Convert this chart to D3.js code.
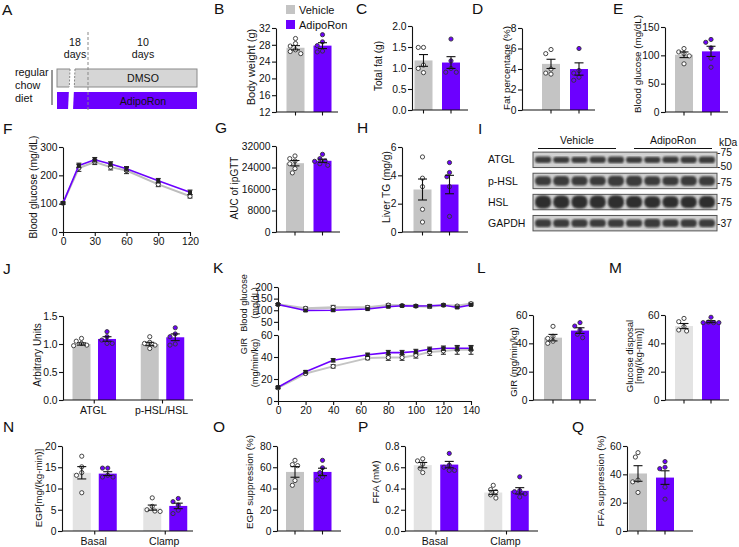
<!DOCTYPE html>
<html><head><meta charset="utf-8">
<script src="https://cdn.jsdelivr.net/npm/d3@7"></script>
<style>
body{margin:0;background:#fff}
svg{display:block}
text{font-family:"Liberation Sans",Arial,Helvetica,sans-serif;fill:#111}
</style>
</head><body>
<svg id="c" width="739" height="547"></svg>
<script>
// ---------- DATA ----------
const groups = ["Vehicle", "AdipoRon"];
// B body weight (g)
const bodyWeightMean = [27.3, 27.8], bodyWeightSem = [0.5, 0.7];
const bodyWeightVeh = [29.5, 28.3, 27.7, 26.8, 26.4, 25.9], bodyWeightAdipo = [30.4, 28.7, 27.8, 26.5, 26.3];
// C total fat (g)
const totalFatMean = [1.18, 1.13], totalFatSem = [0.14, 0.14];
const totalFatVeh = [1.49, 1.49, 1.07, 0.99, 0.89], totalFatAdipo = [1.69, 1.17, 0.99, 0.9, 0.9];
// D fat percentage (%)
const fatPctMean = [4.5, 4.0], fatPctSem = [0.45, 0.6];
const fatPctVeh = [5.9, 5.5, 4.0, 3.6, 3.5], fatPctAdipo = [6.0, 3.85, 3.6, 3.2, 2.9];
// E blood glucose (mg/dL)
const bgMean = [101, 107], bgSem = [5, 9];
const bgVeh = [112, 106, 103, 99, 85], bgAdipo = [128, 123, 113, 95, 79];
// F ipGTT
const gttTime = [0, 15, 30, 45, 60, 90, 120];
const gttVeh = [102, 226, 247, 229, 217, 168, 126], gttVehSem = [4, 12, 9, 10, 11, 8, 6];
const gttAdipo = [102, 235, 255, 240, 223, 181, 140], gttAdipoSem = [4, 8, 8, 8, 8, 8, 8];
const gttXTicks = [0, 30, 60, 90, 120], gttYTicks = [0, 100, 200, 300];
// G AUC
const aucMean = [25600, 26500], aucSem = [1000, 600];
const aucVeh = [28300, 27300, 26400, 25400, 23600, 22000], aucAdipo = [28900, 27300, 26400, 26300, 25400, 24800];
// H liver TG (mg/g)
const liverTgMean = [3.0, 3.35], liverTgSem = [0.74, 0.65];
const liverTgVeh = [5.3, 3.8, 3.2, 1.6, 0.7], liverTgAdipo = [4.9, 4.2, 3.9, 3.2, 1.1];
// I western blot
const blotRows = ["ATGL", "p-HSL", "HSL", "GAPDH"];
const blotLanes = ["V1", "V2", "V3", "V4", "V5", "A1", "A2", "A3", "A4", "A5"];
const atglBands = [0.42, 0.4, 0.4, 0.42, 0.44, 0.4, 0.4, 0.42, 0.43, 0.44];
const phslBands = [0.6, 0.64, 0.6, 0.6, 0.68, 0.68, 0.6, 0.58, 0.64, 0.62];
const hslBands = [0.85, 0.85, 0.85, 0.85, 0.88, 0.78, 0.76, 0.74, 0.76, 0.78];
const gapdhBands = [0.52, 0.52, 0.52, 0.5, 0.52, 0.48, 0.56, 0.5, 0.52, 0.52];
const blotMarkers = [["ATGL", "75", -0.45], ["ATGL", "50", 0.42], ["p-HSL", "75", 0.12], ["HSL", "75", 0.05], ["GAPDH", "37", 0.0]];
// J quantification
const blotCats = ["ATGL", "p-HSL/HSL"];
const atglMean = [1.0, 1.09], atglSem = [0.02, 0.04];
const atglVeh = [1.1, 1.05, 1.01, 0.98, 0.97], atglAdipo = [1.22, 1.13, 1.07, 1.01, 1.01];
const phslMean = [1.0, 1.12], phslSem = [0.03, 0.06];
const phslVeh = [1.13, 1.03, 1.01, 0.98, 0.92], phslAdipo = [1.29, 1.18, 1.13, 1.0, 0.98];
// K clamp time course
const clampTime = [0, 20, 40, 65, 80, 90, 100, 110, 120, 130, 140];
const clampBgVeh = [125, 108, 112, 112, 122, 120, 118, 116, 122, 118, 128];
const clampBgVehSem = [4, 6, 9, 7, 6, 4, 4, 7, 4, 4, 6];
const clampBgAdipo = [125, 99, 100, 105, 115, 119, 118, 119, 122, 112, 123];
const clampBgAdipoSem = [4, 4, 5, 4, 4, 4, 4, 4, 4, 4, 4];
const girVeh = [12, 25, 31.5, 39, 39.5, 39.5, 41.5, 44.5, 45.5, 46.5, 46.5];
const girVehSem = [1, 1, 1.5, 1.5, 2.5, 2.5, 2.5, 3, 3, 4, 4];
const girAdipo = [12.5, 26.5, 37, 42, 44, 44, 45, 47, 48, 48, 48];
const girAdipoSem = [1, 1, 1.5, 1.5, 2, 2, 2, 2, 2, 2, 2];
const clampXTicks = [0, 20, 40, 60, 80, 100, 120, 140];
// L GIR
const girMean = [44, 49], girSem = [2.3, 2.0];
const girBarVeh = [52, 45, 43.5, 41.5, 40], girBarAdipo = [54.6, 52.2, 49.4, 46.4, 44];
// M glucose disposal
const gdMean = [52.2, 55.3], gdSem = [1.8, 0.7];
const gdVeh = [57.6, 55.3, 51.8, 49.4, 48.7], gdAdipo = [58.4, 55, 54.6, 54.6, 54.6];
// N EGP
const egpCats = ["Basal", "Clamp"];
const egpBasalMean = [13.7, 13.5], egpBasalSem = [1.45, 0.45];
const egpBasalVeh = [17.6, 15.1, 13.75, 13.1, 9.0], egpBasalAdipo = [14.8, 14.8, 13.1, 12.7, 12.7];
const egpClampMean = [5.5, 5.9], egpClampSem = [0.6, 0.65];
const egpClampVeh = [7.8, 5.8, 5.0, 4.7, 4.6], egpClampAdipo = [7.65, 6.9, 6.1, 4.9, 4.1];
// O EGP suppression
const egpSupMean = [55.6, 55.6], egpSupSem = [5.0, 3.5];
const egpSupVeh = [66.5, 62.5, 61.5, 47.5, 43], egpSupAdipo = [66.5, 59.5, 55, 51, 48];
// P FFA
const ffaCats = ["Basal", "Clamp"];
const ffaBasalMean = [0.62, 0.625], ffaBasalSem = [0.025, 0.03];
const ffaBasalVeh = [0.68, 0.66, 0.63, 0.59, 0.55], ffaBasalAdipo = [0.73, 0.62, 0.6, 0.57, 0.57];
const ffaClampMean = [0.362, 0.378], ffaClampSem = [0.02, 0.03];
const ffaClampVeh = [0.43, 0.39, 0.37, 0.34, 0.31], ffaClampAdipo = [0.51, 0.38, 0.37, 0.35, 0.32];
// Q FFA suppression
const ffaSupMean = [40.6, 37.7], ffaSupSem = [5.5, 4.8];
const ffaSupVeh = [55.3, 52.2, 35.9, 34.7, 27.2], ffaSupAdipo = [49, 45, 44, 31, 22.5];

// ---------- STYLE ----------
const PURPLE = "#6c00ff", GRAY = "#c4c4c4", LGRAY = "#e3e3e3";
const TICKFS = 10.3, LABFS = 10.3;
const svg = d3.select("#c");

function letter(t, x, y) {
  svg.append("text").attr("x", x).attr("y", y).attr("font-size", 15.5).text(t);
}
function ylab(t, x, y, fs) {
  svg.append("text").attr("transform", `translate(${x},${y}) rotate(-90)`)
    .attr("text-anchor", "middle").attr("dy", "0.35em").attr("font-size", fs || LABFS).text(t);
}
function styleAxis(sel) {
  sel.selectAll("path,line").attr("stroke", "#111").attr("stroke-width", 1.1);
  sel.selectAll("text").attr("font-size", TICKFS).attr("fill", "#111")
    .style("font-family", '"Liberation Sans",Arial,sans-serif');
}
function swarm(vals, y, r) {
  const placed = [], out = new Array(vals.length);
  const order = vals.map((v, i) => i).sort((a, b) => vals[b] - vals[a]);
  order.forEach(i => {
    const py = y(vals[i]);
    for (let k = 0; k < 30; k++) {
      const off = k === 0 ? 0 : (k % 2 ? -1 : 1) * Math.ceil(k / 2) * r * 1.25;
      if (placed.every(p => Math.hypot(p.x - off, p.y - py) >= 2 * r + 0.7)) {
        placed.push({x: off, y: py}); out[i] = off; break;
      }
    }
    if (out[i] === undefined) out[i] = 0;
  });
  return out;
}

function barPanel(o) {
  const g = svg.append("g");
  const y = d3.scaleLinear().domain(o.domain).range([o.yBot, o.yTop]);
  const xc = d3.scalePoint().domain(o.cats).range(o.catRange);
  const xi = d3.scalePoint().domain(groups).range([-o.half, o.half]);
  const cols = [o.vehColor || GRAY, PURPLE];
  const bw = 18;
  o.cats.forEach((c, ci) => {
    groups.forEach((gr, gi) => {
      const cx = xc(c) + xi(gr), m = o.means[ci][gi];
      g.append("rect").attr("x", cx - bw / 2).attr("width", bw)
        .attr("y", y(m)).attr("height", y(o.domain[0]) - y(m)).attr("fill", cols[gi]);
    });
  });
  const ya = d3.axisLeft(y).tickValues(o.ticks).tickSize(4).tickSizeOuter(0).tickPadding(1.5)
    .tickFormat(o.fmt || d3.format("d"));
  g.append("g").attr("transform", `translate(${o.x0},0)`).call(ya).call(styleAxis);
  const ticks = [];
  o.cats.forEach(c => {
    if (o.catTicks) ticks.push(xc(c)); else groups.forEach(gr => ticks.push(xc(c) + xi(gr)));
  });
  g.append("line").attr("x1", o.x0).attr("x2", o.x1).attr("y1", o.yBot).attr("y2", o.yBot)
    .attr("stroke", "#111").attr("stroke-width", 1.2);
  ticks.forEach(t => g.append("line").attr("x1", t).attr("x2", t).attr("y1", o.yBot).attr("y2", o.yBot + 3.5)
    .attr("stroke", "#111").attr("stroke-width", 1.1));
  if (o.catLabels) {
    o.cats.forEach(c => g.append("text").attr("x", xc(c) - 1).attr("y", o.catY).attr("text-anchor", "middle")
      .attr("font-size", 10.5).text(c));
  }
  const r = 2.1;
  o.cats.forEach((c, ci) => {
    groups.forEach((gr, gi) => {
      const cx = xc(c) + xi(gr), vals = o.pts[ci][gi];
      const offs = swarm(vals, y, r);
      vals.forEach((v, i) => g.append("circle").attr("cx", cx + offs[i]).attr("cy", y(v)).attr("r", r)
        .attr("fill", gi === 0 ? "#fff" : PURPLE).attr("stroke", "#333").attr("stroke-width", 0.9));
    });
  });
  o.cats.forEach((c, ci) => {
    groups.forEach((gr, gi) => {
      const cx = xc(c) + xi(gr), m = o.means[ci][gi], s = o.sems[ci][gi];
      const hi = y(m + s), lo = y(m - s);
      g.append("line").attr("x1", cx).attr("x2", cx).attr("y1", hi).attr("y2", lo).attr("stroke", "#111").attr("stroke-width", 1.1);
      [hi, lo].forEach(yy => g.append("line").attr("x1", cx - 4.5).attr("x2", cx + 4.5).attr("y1", yy).attr("y2", yy)
        .attr("stroke", "#111").attr("stroke-width", 1.1));
    });
  });
  return y;
}

function lineSeries(g, x, y, t, vals, sems, color, width, marker) {
  const line = d3.line().x((d, i) => x(t[i])).y(d => y(d));
  g.append("path").attr("d", line(vals)).attr("fill", "none").attr("stroke", color).attr("stroke-width", width)
    .attr("stroke-linejoin", "round");
  vals.forEach((v, i) => {
    const cx = x(t[i]), hi = y(v + sems[i]), lo = y(v - sems[i]);
    g.append("line").attr("x1", cx).attr("x2", cx).attr("y1", hi).attr("y2", lo).attr("stroke", "#222").attr("stroke-width", 1);
    [hi, lo].forEach(yy => g.append("line").attr("x1", cx - 2.5).attr("x2", cx + 2.5).attr("y1", yy).attr("y2", yy)
      .attr("stroke", "#222").attr("stroke-width", 1));
  });
  vals.forEach((v, i) => {
    if (marker === "circle") g.append("circle").attr("cx", x(t[i])).attr("cy", y(v)).attr("r", 2.1)
      .attr("fill", "#fff").attr("stroke", "#333").attr("stroke-width", 1);
    else g.append("rect").attr("x", x(t[i]) - 2).attr("y", y(v) - 2).attr("width", 4).attr("height", 4).attr("fill", "#222");
  });
}

// ---------- A: schematic ----------
letter("A", 2, 15);
(function () {
  const g = svg.append("g");
  const fs = 10.6;
  [["18", 75, 46], ["days", 75, 58], ["10", 143, 46], ["days", 143, 58]].forEach(d =>
    g.append("text").attr("x", d[1]).attr("y", d[2]).attr("text-anchor", "middle").attr("font-size", fs).text(d[0]));
  g.append("rect").attr("x", 57).attr("y", 69).attr("width", 140).attr("height", 18).attr("fill", "#d6d6d6").attr("stroke", "#8a8a8a").attr("stroke-width", 1);
  g.append("rect").attr("x", 57).attr("y", 92).attr("width", 140).attr("height", 17).attr("fill", PURPLE);
  g.append("polygon").attr("points", "70,68 75,68 73,110 68,110").attr("fill", "#fff");
  g.append("line").attr("x1", 70).attr("y1", 69).attr("x2", 69.3).attr("y2", 87).attr("stroke", "#888").attr("stroke-dasharray", "2,1.5");
  g.append("line").attr("x1", 75).attr("y1", 69).attr("x2", 74.3).attr("y2", 87).attr("stroke", "#888").attr("stroke-dasharray", "2,1.5");
  g.append("line").attr("x1", 88).attr("x2", 88).attr("y1", 32).attr("y2", 110).attr("stroke", "#888").attr("stroke-width", 1).attr("stroke-dasharray", "3,2");
  g.append("text").attr("x", 143).attr("y", 82).attr("text-anchor", "middle").attr("font-size", fs).text("DMSO");
  g.append("text").attr("x", 143).attr("y", 104.5).attr("text-anchor", "middle").attr("font-size", fs).text("AdipoRon");
  [["regular", 76], ["chow", 89], ["diet", 102]].forEach(d =>
    g.append("text").attr("x", 15).attr("y", d[1]).attr("font-size", 10.8).text(d[0]));
  g.append("line").attr("x1", 52).attr("x2", 52).attr("y1", 70).attr("y2", 105).attr("stroke", "#333").attr("stroke-width", 1);
})();

// legend
groups.forEach((gr, i) => {
  svg.append("rect").attr("x", 286).attr("y", 5 + i * 15).attr("width", 9).attr("height", 9).attr("fill", i ? PURPLE : GRAY);
  svg.append("text").attr("x", 299).attr("y", 13.5 + i * 15).attr("font-size", 11).text(gr);
});

// ---------- top row ----------
letter("B", 214, 14);
barPanel({x0: 276, x1: 338, yTop: 28, yBot: 112, domain: [12, 32], ticks: [12, 16, 20, 24, 28, 32],
  cats: [""], catRange: [309, 309], half: 13.5, means: [bodyWeightMean], sems: [bodyWeightSem],
  pts: [[bodyWeightVeh, bodyWeightAdipo]]});
ylab("Body weight (g)", 251, 67, 11);

letter("C", 356, 14);
barPanel({x0: 412, x1: 468, yTop: 26, yBot: 110, domain: [0, 2], ticks: [0, 0.5, 1, 1.5, 2], fmt: d3.format(".1f"),
  cats: [""], catRange: [437.25, 437.25], half: 13.75, means: [totalFatMean], sems: [totalFatSem],
  pts: [[totalFatVeh, totalFatAdipo]]});
ylab("Total fat (g)", 378, 66, 10);

letter("D", 472, 14);
barPanel({x0: 522, x1: 595, yTop: 28, yBot: 110, domain: [0, 8], ticks: [0, 2, 4, 6, 8],
  cats: [""], catRange: [565, 565], half: 14, means: [fatPctMean], sems: [fatPctSem],
  pts: [[fatPctVeh, fatPctAdipo]]});
ylab("Fat percentage (%)", 506.5, 68, 9.8);

letter("E", 613, 14);
barPanel({x0: 665, x1: 728, yTop: 27, yBot: 112, domain: [0, 150], ticks: [0, 50, 100, 150],
  cats: [""], catRange: [697.5, 697.5], half: 13.5, means: [bgMean], sems: [bgSem],
  pts: [[bgVeh, bgAdipo]]});
ylab("Blood glucose (mg/dL)", 638, 64, 9.8);

// ---------- F ----------
letter("F", 3, 134);
(function () {
  const g = svg.append("g");
  const x = d3.scaleLinear().domain([0, 120]).range([63, 190]);
  const y = d3.scaleLinear().domain([0, 300]).range([232, 147]);
  g.append("g").attr("transform", "translate(63,0)").call(d3.axisLeft(y).tickValues(gttYTicks).tickSize(4).tickSizeOuter(0).tickPadding(1.5)).call(styleAxis);
  g.append("g").attr("transform", "translate(0,232)").call(d3.axisBottom(x).tickValues(gttXTicks).tickSize(4).tickSizeOuter(0).tickPadding(2)).call(styleAxis);
  lineSeries(g, x, y, gttTime, gttVeh, gttVehSem, "#bdbdbd", 2, "circle");
  lineSeries(g, x, y, gttTime, gttAdipo, gttAdipoSem, PURPLE, 1.6, "square");
})();
ylab("Blood glucose (mg/dL)", 33, 187, 10.3);

letter("G", 215, 133);
barPanel({x0: 276, x1: 340, yTop: 146, yBot: 232, domain: [0, 32000], ticks: [0, 8000, 16000, 24000, 32000],
  cats: [""], catRange: [308.75, 308.75], half: 13.75, means: [aucMean], sems: [aucSem],
  pts: [[aucVeh, aucAdipo]]});
ylab("AUC of ipGTT", 234, 188, 10);

letter("H", 357, 133);
barPanel({x0: 402, x1: 468, yTop: 147, yBot: 232, domain: [0, 6], ticks: [0, 2, 4, 6],
  cats: [""], catRange: [436, 436], half: 13.5, means: [liverTgMean], sems: [liverTgSem],
  pts: [[liverTgVeh, liverTgAdipo]]});
ylab("Liver TG (mg/g)", 386.5, 187, 10.3);

// ---------- I: blot ----------
letter("I", 478, 134);
(function () {
  const g = svg.append("g");
  const defs = svg.append("defs");
  defs.append("filter").attr("id", "blur").append("feGaussianBlur").attr("stdDeviation", 0.9);
  const lg = defs.append("linearGradient").attr("id", "bg").attr("x1", 0).attr("x2", 0).attr("y1", 0).attr("y2", 1);
  lg.append("stop").attr("offset", 0).attr("stop-color", "#cdcdcd");
  lg.append("stop").attr("offset", 0.5).attr("stop-color", "#dcdcdc");
  lg.append("stop").attr("offset", 1).attr("stop-color", "#cdcdcd");
  const ry = d3.scaleBand().domain(blotRows).range([150, 233]).paddingInner(0.27).paddingOuter(0.1);
  const lx = d3.scaleBand().domain(blotLanes).range([534, 716]).paddingInner(0.1).paddingOuter(0.05);
  const bandSets = [atglBands, phslBands, hslBands, gapdhBands];
  blotRows.forEach((row, ri) => {
    const y0 = ry(row), h = ry.bandwidth();
    g.append("rect").attr("x", 533).attr("y", y0).attr("width", 184).attr("height", h)
      .attr("fill", "url(#bg)").attr("stroke", "#555").attr("stroke-width", 1);
    blotLanes.forEach((ln, li) => {
      const bh = bandSets[ri][li] * h;
      g.append("rect").attr("x", lx(ln)).attr("width", lx.bandwidth()).attr("y", y0 + h / 2 - bh / 2).attr("height", bh)
        .attr("rx", bh / 2.2).attr("fill", ri === 2 ? "#2e2e2e" : "#3a3a3a").attr("filter", "url(#blur)");
    });
    g.append("text").attr("x", 488).attr("y", y0 + h / 2).attr("dy", "0.35em").attr("font-size", 10.5).text(row);
  });
  blotMarkers.forEach(m => {
    g.append("text").attr("x", 717).attr("y", ry(m[0]) + ry.bandwidth() / 2 + m[2] * ry.bandwidth())
      .attr("dy", "0.35em").attr("font-size", 10.3).text("-" + m[1]);
  });
  g.append("text").attr("x", 719).attr("y", 146).attr("font-size", 10.3).text("kDa");
  const gx = d3.scalePoint().domain(groups).range([577, 673]);
  groups.forEach((gr, i) => {
    g.append("text").attr("x", gx(gr)).attr("y", 144).attr("text-anchor", "middle").attr("font-size", 10.5).text(gr);
    g.append("line").attr("x1", gx(gr) - 39).attr("x2", gx(gr) + 39).attr("y1", 148.5).attr("y2", 148.5).attr("stroke", "#111").attr("stroke-width", 1.2);
  });
})();

// ---------- J ----------
letter("J", 3, 274);
barPanel({x0: 63, x1: 193, yTop: 316, yBot: 400, domain: [0, 1.5], ticks: [0, 0.5, 1, 1.5], fmt: d3.format(".1f"),
  cats: blotCats, catRange: [94.25, 162.5], half: 12.75, means: [atglMean, phslMean], sems: [atglSem, phslSem],
  pts: [[atglVeh, atglAdipo], [phslVeh, phslAdipo]], catTicks: true, catLabels: true, catY: 414});
ylab("Arbitrary Units", 37.5, 355, 10);

// ---------- K ----------
letter("K", 213, 273);
(function () {
  const g = svg.append("g");
  const x = d3.scaleLinear().domain([0, 140]).range([278, 471]);
  const yt = d3.scaleLinear().domain([15, 200]).range([330, 287]);
  const yb = d3.scaleLinear().domain([0, 60]).range([401, 335]);
  g.append("g").attr("transform", "translate(278,0)").call(d3.axisLeft(yt).tickValues([50, 100, 150, 200]).tickSize(4).tickSizeOuter(0).tickPadding(1.5)).call(styleAxis);
  g.append("g").attr("transform", "translate(278,0)").call(d3.axisLeft(yb).tickValues([0, 20, 40, 60]).tickSize(4).tickSizeOuter(0).tickPadding(1.5)).call(styleAxis);
  g.append("g").attr("transform", "translate(0,401)").call(d3.axisBottom(x).tickValues(clampXTicks).tickSize(4).tickSizeOuter(0).tickPadding(2)).call(styleAxis);
  lineSeries(g, x, yt, clampTime, clampBgVeh, clampBgVehSem, "#c4c4c4", 2.5, "circle");
  lineSeries(g, x, yt, clampTime, clampBgAdipo, clampBgAdipoSem, PURPLE, 1.5, "square");
  lineSeries(g, x, yb, clampTime, girVeh, girVehSem, "#c4c4c4", 2, "circle");
  lineSeries(g, x, yb, clampTime, girAdipo, girAdipoSem, PURPLE, 1.6, "square");
})();
ylab("Blood glucose", 244, 303, 9.2);
ylab("(mg/dL)", 255, 303, 9.2);
ylab("GIR", 244, 346, 9.2);
ylab("(mg/min/kg)", 255, 363, 9.2);

// ---------- L, M ----------
letter("L", 477, 273);
barPanel({x0: 533, x1: 596, yTop: 315, yBot: 400, domain: [0, 60], ticks: [0, 20, 40, 60],
  cats: [""], catRange: [566.5, 566.5], half: 13.5, means: [girMean], sems: [girSem],
  pts: [[girBarVeh, girBarAdipo]]});
ylab("GIR (mg/min/kg)", 514, 362, 9.5);

letter("M", 609, 273);
barPanel({x0: 665, x1: 729, yTop: 315, yBot: 400, domain: [0, 60], ticks: [0, 20, 40, 60], vehColor: LGRAY,
  cats: [""], catRange: [697.5, 697.5], half: 13.5, means: [gdMean], sems: [gdSem],
  pts: [[gdVeh, gdAdipo]]});
ylab("Glucose disposal", 629.5, 356, 9.5);
ylab("[mg/(kg-min)]", 639, 356, 9.5);

// ---------- bottom row ----------
letter("N", 3, 432);
barPanel({x0: 62, x1: 193, yTop: 446, yBot: 531, domain: [0, 20], ticks: [0, 5, 10, 15, 20], vehColor: LGRAY,
  cats: egpCats, catRange: [94.75, 165.25], half: 13, means: [egpBasalMean, egpClampMean], sems: [egpBasalSem, egpClampSem],
  pts: [[egpBasalVeh, egpBasalAdipo], [egpClampVeh, egpClampAdipo]], catTicks: true, catLabels: true, catY: 545});
ylab("EGP[mg/(kg-min)]", 39, 488, 9.8);

letter("O", 213, 432);
barPanel({x0: 277, x1: 341, yTop: 446, yBot: 531, domain: [0, 80], ticks: [0, 20, 40, 60, 80],
  cats: [""], catRange: [308.75, 308.75], half: 13.75, means: [egpSupMean], sems: [egpSupSem],
  pts: [[egpSupVeh, egpSupAdipo]]});
ylab("EGP suppression (%)", 250, 482, 9.8);

letter("P", 358, 432);
barPanel({x0: 405, x1: 538, yTop: 446, yBot: 531, domain: [0, 0.8], ticks: [0, 0.2, 0.4, 0.6, 0.8], fmt: d3.format(".1f"), vehColor: LGRAY,
  cats: ffaCats, catRange: [436, 506.5], half: 13.25, means: [ffaBasalMean, ffaClampMean], sems: [ffaBasalSem, ffaClampSem],
  pts: [[ffaBasalVeh, ffaBasalAdipo], [ffaClampVeh, ffaClampAdipo]], catTicks: true, catLabels: true, catY: 545});
ylab("FFA (mM)", 376, 482, 9.8);

letter("Q", 572, 432);
barPanel({x0: 627, x1: 693, yTop: 446, yBot: 531, domain: [0, 60], ticks: [0, 20, 40, 60],
  cats: [""], catRange: [651.5, 651.5], half: 13.5, means: [ffaSupMean], sems: [ffaSupSem],
  pts: [[ffaSupVeh, ffaSupAdipo]]});
ylab("FFA suppression (%)", 601, 481, 9.8);
</script>
</body></html>
